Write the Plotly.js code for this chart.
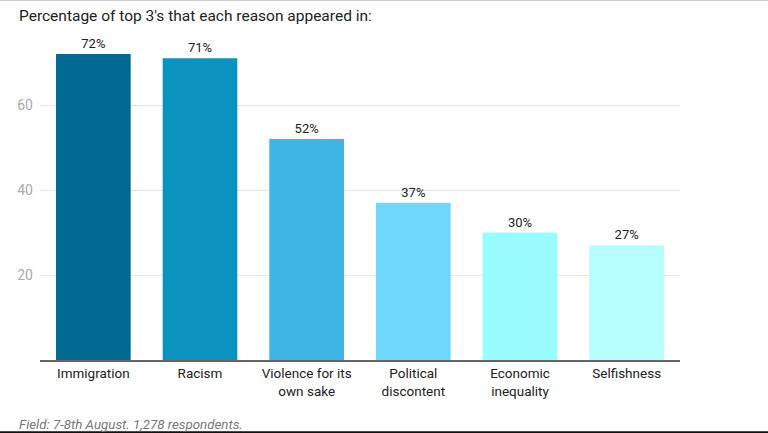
<!DOCTYPE html>
<html>
<head>
<meta charset="utf-8">
<script src="https://cdn.plot.ly/plotly-3.0.1.min.js"></script>
<style>html,body{margin:0;padding:0;background:#fff;}#chart{width:768px;height:433px;}</style>
</head>
<body>
<div id="chart"></div>
<script>
const categories = ["Immigration", "Racism", "Violence for its<br>own sake", "Political<br>discontent", "Economic<br>inequality", "Selfishness"];
const values = [72, 71, 52, 37, 30, 27];
const labels = ["72%", "71%", "52%", "37%", "30%", "27%"];
const colors = ["#016a92", "#0b93c0", "#3fb5e3", "#6cd8fc", "#98fbfe", "#b5fdff"];
const tickVals = [20, 40, 60];

const trace = {
  type: "bar",
  x: categories,
  y: values,
  text: labels,
  textposition: "outside",
  cliponaxis: false,
  textfont: {family: "Roboto, sans-serif", size: 13, color: "#222"},
  marker: {color: colors},
  hoverinfo: "none"
};

const layout = {
  width: 768, height: 433,
  margin: {l: 40, r: 88, t: 20, b: 73},
  paper_bgcolor: "#fff", plot_bgcolor: "#fff",
  bargap: 0.3,
  showlegend: false,
  font: {family: "Roboto, sans-serif"},
  xaxis: {
    type: "category",
    showgrid: false,
    showline: true, linecolor: "#666", linewidth: 2,
    ticks: "",
    tickfont: {family: "Roboto, sans-serif", size: 13.5, color: "#222"},
    fixedrange: true
  },
  yaxis: {
    range: [0, 80],
    tickvals: tickVals,
    ticktext: tickVals.map(String),
    showgrid: true, gridcolor: "#e6e6e6", gridwidth: 1,
    zeroline: false,
    showline: false,
    ticks: "",
    ticklabelstandoff: 6,
    tickfont: {family: "Roboto, sans-serif", size: 14, color: "#aaaaaa"},
    fixedrange: true
  },
  annotations: [
    {text: "Percentage of top 3's that each reason appeared in:", xref: "paper", yref: "paper",
     x: 0, y: 1.0, xanchor: "left", yanchor: "middle", yshift: 4, xshift: -23, showarrow: false,
     font: {family: "Roboto, sans-serif", size: 15.5, color: "#222"}},
    {text: "<i>Field: 7-8th August. 1,278 respondents.</i>", xref: "paper", yref: "paper",
     x: 0, y: 0, xanchor: "left", yanchor: "middle", yshift: -64, xshift: -23, showarrow: false,
     font: {family: "Roboto, sans-serif", size: 13.3, color: "#777"}}
  ],
  shapes: [
    {type: "line", xref: "paper", yref: "paper", x0: -0.0625, x1: 1.1375, y0: -0.2126, y1: -0.2126,
     line: {color: "#111", width: 2}},
    {type: "line", xref: "paper", yref: "paper", x0: -0.0625, x1: 1.1375, y0: 1.0574, y1: 1.0574,
     line: {color: "#ccc", width: 1}}
  ]
};

Plotly.newPlot("chart", [trace], layout, {displayModeBar: false, staticPlot: true});
</script>
</body>
</html>
